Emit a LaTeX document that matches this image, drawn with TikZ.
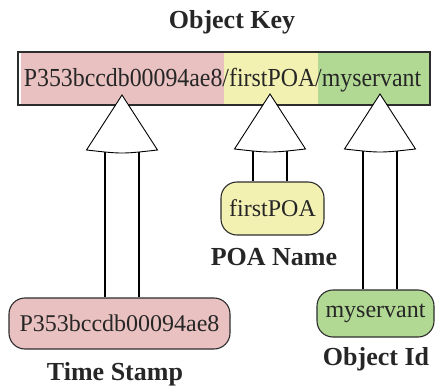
\documentclass[tikz,border=0pt]{standalone}
\usepackage{fontspec}
\setmainfont{Liberation Serif}
\usetikzlibrary{calc}

\definecolor{stampred}{RGB}{233,193,192}
\definecolor{poayellow}{RGB}{243,241,178}
\definecolor{idgreen}{RGB}{177,217,147}
\definecolor{edgegray}{RGB}{45,45,45}

\tikzset{
  keytext/.style={font=\fontsize{26}{30}\selectfont, inner sep=0pt, text=black!85},
  part/.style={draw=edgegray, line width=1.1pt, rounded corners=16pt,
               font=\fontsize{24}{28}\selectfont, inner sep=0pt, text=black!85},
  caption/.style={font=\bfseries\fontsize{26}{30}\selectfont, anchor=base, text=black!85},
  head/.style={draw=black, fill=white, line width=0.9pt, line join=miter},
  shaft/.style={draw=black, line width=1.1pt},
}

% block arrow from a part node up to its tip in the key
\newcommand{\keyarrow}[2]{%
  \coordinate (#1-sl) at ($(#1)+(-17,55)$);
  \coordinate (#1-sr) at ($(#1)+(17,55)$);
  \draw[shaft] (#1-sl) -- (#1-sl |- #2.north);
  \draw[shaft] (#1-sr) -- (#1-sr |- #2.north);
  \draw[head] (#1) -- ($(#1)+(35.5,55)$)
     .. controls ($(#1)+(0,59)$) .. ($(#1)+(-35.5,55)$) -- cycle;
}

\begin{document}
\begin{tikzpicture}[x=1pt, y=-1pt]
\useasboundingbox (0,0) rectangle (436,390);

% title
\node[caption] (title) at (232,29) {Object Key};

% the object key with its three coloured fields
\fill[stampred]  (20.5,52) rectangle (224,105);
\fill[poayellow] (224,52) rectangle (318,105);
\fill[idgreen]   (318,52) rectangle (430,105);
\node[draw=edgegray, line width=1.2pt, minimum width=412pt, minimum height=53pt,
      inner sep=0pt] (key) at (224,78.5) {};
\node[keytext, anchor=base] (keystr) at (222.5,86.5)
  {\scalebox{0.917}[1]{P353bccdb00094ae8/firstPOA/myservant}};

% the three parts
\node[part, fill=stampred, minimum width=221pt, minimum height=51pt] (stamp) at (119.5,323.5) {P353bccdb00094ae8};
\node[part, fill=poayellow, minimum width=103pt, minimum height=53pt] (poa) at (272.5,208.5) {firstPOA};
\node[part, fill=idgreen, minimum width=117pt, minimum height=47pt] (oid) at (375.5,313.5) {myservant};

% captions
\node[caption] (stampcap) at (115,380) {Time Stamp};
\node[caption] (poacap) at (274,265) {POA Name};
\node[caption] (oidcap) at (376,365) {Object Id};

% arrow tips inside the key
\coordinate (tipstamp) at (122,95);
\coordinate (tippoa) at (270,94);
\coordinate (tipoid) at (380,94);

\keyarrow{tipstamp}{stamp}
\keyarrow{tippoa}{poa}
\keyarrow{tipoid}{oid}
\end{tikzpicture}
\end{document}
